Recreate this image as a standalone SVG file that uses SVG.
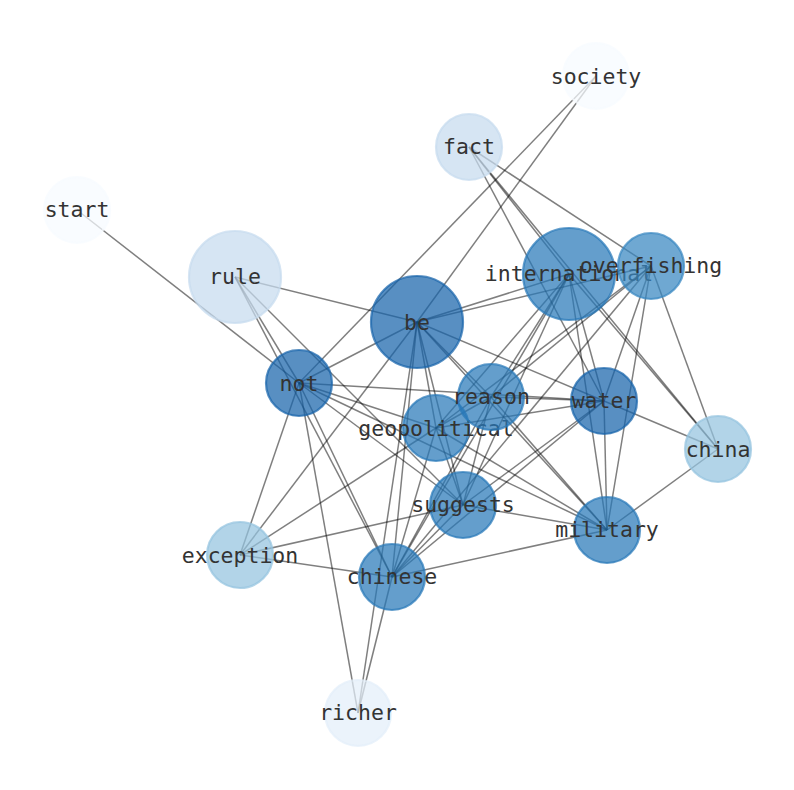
<svg xmlns="http://www.w3.org/2000/svg" width="794" height="790" viewBox="0 0 794 790">
<style>
.e line{stroke:#000;stroke-opacity:0.5;stroke-width:1.5}
.n circle{stroke-width:2.2;fill-opacity:0.72;stroke-opacity:0.72}
.n text{font-family:"DejaVu Sans Mono",monospace;font-size:21.5px;fill:#333;text-anchor:middle;dominant-baseline:central}
.c0{fill:#f7fbff;stroke:#f7fbff}
.c1{fill:#e3eef9;stroke:#e3eef9}
.c2{fill:#c6dbef;stroke:#c6dbef}
.c3{fill:#94c4df;stroke:#94c4df}
.c4{fill:#3787c0;stroke:#3787c0}
.c5{fill:#2878b8;stroke:#2878b8}
.c6{fill:#1764ab;stroke:#1764ab}
</style>
<rect width="794" height="790" fill="#fff"/>
<g id="edges" class="e">
<line x1="77" y1="210" x2="299" y2="383"/>
<line x1="596" y1="76" x2="299" y2="383"/>
<line x1="596" y1="76" x2="417" y2="322"/>
<line x1="469" y1="147" x2="569" y2="274"/>
<line x1="469" y1="147" x2="718" y2="449"/>
<line x1="469" y1="147" x2="604" y2="401"/>
<line x1="469" y1="147" x2="651" y2="266"/>
<line x1="235" y1="277" x2="417" y2="322"/>
<line x1="235" y1="277" x2="299" y2="383"/>
<line x1="235" y1="277" x2="392" y2="577"/>
<line x1="235" y1="277" x2="463" y2="505"/>
<line x1="417" y1="322" x2="299" y2="383"/>
<line x1="417" y1="322" x2="569" y2="274"/>
<line x1="417" y1="322" x2="651" y2="266"/>
<line x1="417" y1="322" x2="604" y2="401"/>
<line x1="417" y1="322" x2="491" y2="397"/>
<line x1="417" y1="322" x2="436" y2="428"/>
<line x1="417" y1="322" x2="392" y2="577"/>
<line x1="417" y1="322" x2="240" y2="555"/>
<line x1="417" y1="322" x2="607" y2="530"/>
<line x1="417" y1="322" x2="358" y2="713"/>
<line x1="417" y1="322" x2="463" y2="505"/>
<line x1="299" y1="383" x2="604" y2="401"/>
<line x1="299" y1="383" x2="436" y2="428"/>
<line x1="299" y1="383" x2="463" y2="505"/>
<line x1="299" y1="383" x2="607" y2="530"/>
<line x1="299" y1="383" x2="392" y2="577"/>
<line x1="299" y1="383" x2="358" y2="713"/>
<line x1="299" y1="383" x2="240" y2="555"/>
<line x1="569" y1="274" x2="604" y2="401"/>
<line x1="569" y1="274" x2="607" y2="530"/>
<line x1="569" y1="274" x2="718" y2="449"/>
<line x1="569" y1="274" x2="491" y2="397"/>
<line x1="569" y1="274" x2="436" y2="428"/>
<line x1="569" y1="274" x2="463" y2="505"/>
<line x1="569" y1="274" x2="392" y2="577"/>
<line x1="651" y1="266" x2="604" y2="401"/>
<line x1="651" y1="266" x2="607" y2="530"/>
<line x1="651" y1="266" x2="718" y2="449"/>
<line x1="651" y1="266" x2="491" y2="397"/>
<line x1="651" y1="266" x2="436" y2="428"/>
<line x1="651" y1="266" x2="392" y2="577"/>
<line x1="491" y1="397" x2="604" y2="401"/>
<line x1="491" y1="397" x2="436" y2="428"/>
<line x1="491" y1="397" x2="607" y2="530"/>
<line x1="491" y1="397" x2="463" y2="505"/>
<line x1="491" y1="397" x2="392" y2="577"/>
<line x1="604" y1="401" x2="436" y2="428"/>
<line x1="604" y1="401" x2="718" y2="449"/>
<line x1="604" y1="401" x2="607" y2="530"/>
<line x1="604" y1="401" x2="463" y2="505"/>
<line x1="604" y1="401" x2="392" y2="577"/>
<line x1="436" y1="428" x2="463" y2="505"/>
<line x1="436" y1="428" x2="607" y2="530"/>
<line x1="436" y1="428" x2="392" y2="577"/>
<line x1="436" y1="428" x2="240" y2="555"/>
<line x1="463" y1="505" x2="607" y2="530"/>
<line x1="463" y1="505" x2="392" y2="577"/>
<line x1="463" y1="505" x2="240" y2="555"/>
<line x1="607" y1="530" x2="718" y2="449"/>
<line x1="607" y1="530" x2="392" y2="577"/>
<line x1="392" y1="577" x2="240" y2="555"/>
<line x1="392" y1="577" x2="358" y2="713"/>
</g>
<g id="society" class="n"><circle class="c0" cx="596" cy="76" r="33"/><text x="596" y="76">society</text></g>
<g id="fact" class="n"><circle class="c2" cx="469" cy="147" r="33"/><text x="469" y="146">fact</text></g>
<g id="start" class="n"><circle class="c0" cx="77" cy="210" r="33"/><text x="77" y="209">start</text></g>
<g id="rule" class="n"><circle class="c2" cx="235" cy="277" r="46"/><text x="235" y="276">rule</text></g>
<g id="be" class="n"><circle class="c6" cx="417" cy="322" r="46"/><text x="417" y="322">be</text></g>
<g id="international" class="n"><circle class="c5" cx="569" cy="274" r="46"/><text x="569" y="273">international</text></g>
<g id="overfishing" class="n"><circle class="c4" cx="651" cy="266" r="33"/><text x="651" y="265">overfishing</text></g>
<g id="not" class="n"><circle class="c6" cx="299" cy="383" r="33"/><text x="299" y="383">not</text></g>
<g id="geopolitical" class="n"><circle class="c5" cx="436" cy="428" r="33"/><text x="436" y="428">geopolitical</text></g>
<g id="reason" class="n"><circle class="c5" cx="491" cy="397" r="33"/><text x="491" y="396">reason</text></g>
<g id="water" class="n"><circle class="c6" cx="604" cy="401" r="33"/><text x="604" y="400">water</text></g>
<g id="china" class="n"><circle class="c3" cx="718" cy="449" r="33"/><text x="718" y="449">china</text></g>
<g id="suggests" class="n"><circle class="c5" cx="463" cy="505" r="33"/><text x="463" y="504">suggests</text></g>
<g id="military" class="n"><circle class="c5" cx="607" cy="530" r="33"/><text x="607" y="529">military</text></g>
<g id="exception" class="n"><circle class="c3" cx="240" cy="555" r="33"/><text x="240" y="555">exception</text></g>
<g id="chinese" class="n"><circle class="c5" cx="392" cy="577" r="33"/><text x="392" y="576">chinese</text></g>
<g id="richer" class="n"><circle class="c1" cx="358" cy="713" r="33"/><text x="358" y="712">richer</text></g>
</svg>
